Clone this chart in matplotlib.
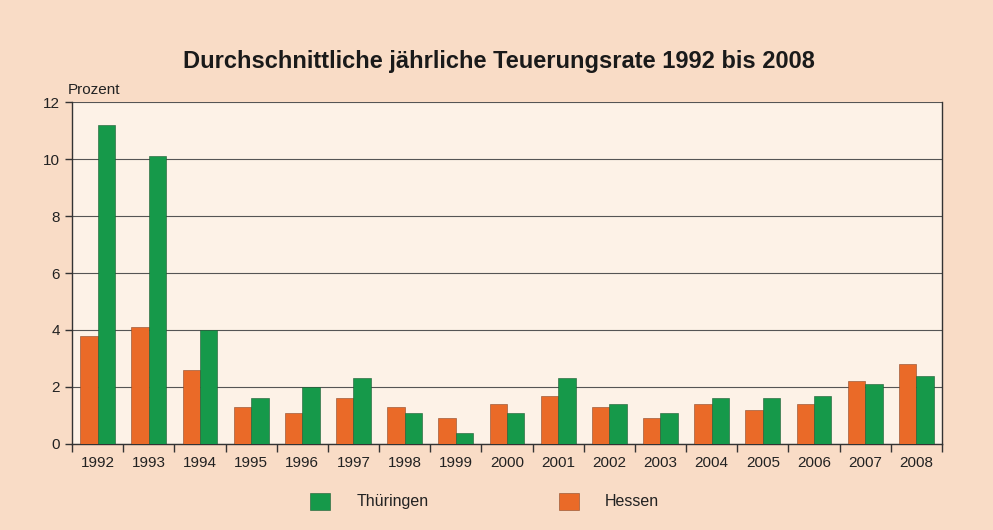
import matplotlib
matplotlib.use("Agg")
import matplotlib.pyplot as plt
import numpy as np

plt.rcParams["font.family"] = ["Liberation Sans", "DejaVu Sans"]

years = ["1992", "1993", "1994", "1995", "1996", "1997", "1998", "1999", "2000",
         "2001", "2002", "2003", "2004", "2005", "2006", "2007", "2008"]
hessen = [3.8, 4.1, 2.6, 1.3, 1.1, 1.6, 1.3, 0.9, 1.4, 1.7, 1.3, 0.9, 1.4, 1.2, 1.4, 2.2, 2.8]
thueringen = [11.2, 10.1, 4.0, 1.6, 2.0, 2.3, 1.1, 0.4, 1.1, 2.3, 1.4, 1.1, 1.6, 1.6, 1.7, 2.1, 2.4]

BG = "#f9dcc6"
PLOT_BG = "#fdf2e7"
ORANGE = "#ea6a28"
GREEN = "#16994a"

fig = plt.figure(figsize=(9.93, 5.30), dpi=100, facecolor=BG)
ax = fig.add_axes([0.0725, 0.1623, 0.8761, 0.6452])
ax.set_facecolor(PLOT_BG)

x = np.arange(len(years))
w = 0.34
ax.bar(x - w / 2, hessen, width=w, color=ORANGE, edgecolor="#8a4a2a", linewidth=0.4, zorder=3)
ax.bar(x + w / 2, thueringen, width=w, color=GREEN, edgecolor="#1d5a33", linewidth=0.4, zorder=3)

ax.set_xlim(-0.5, len(years) - 0.5)
ax.set_ylim(0, 12)
ax.set_yticks(range(0, 13, 2))
ax.grid(axis="y", color="#555555", linewidth=0.8, zorder=1)

ax.set_xticks(x)
ax.set_xticklabels(years, fontsize=11, color="#222222")
ax.tick_params(axis="x", length=0, pad=9)
ax.set_xticks(np.arange(-0.5, len(years)), minor=True)
ax.tick_params(axis="x", which="minor", length=6, width=1, color="#333333", direction="out")
ax.tick_params(axis="y", length=5, width=1, color="#333333", labelsize=11, labelcolor="#222222")

for s in ["left", "bottom", "right"]:
    ax.spines[s].set_color("#333333")
    ax.spines[s].set_linewidth(1)
ax.spines["top"].set_visible(False)

fig.text(0.068, 0.823, "Prozent", fontsize=11, color="#222222", ha="left", va="baseline")
fig.text(0.502, 0.884, "Durchschnittliche jährliche Teuerungsrate 1992 bis 2008",
         fontsize=17, fontweight="bold", color="#1a1a1a", ha="center", va="center")

# Legende unten
fig.patches.append(plt.Rectangle((0.312, 0.038), 0.020, 0.032, transform=fig.transFigure,
                                 facecolor=GREEN, edgecolor="#1d5a33", linewidth=0.4))
fig.text(0.359, 0.054, "Thüringen", fontsize=11.5, color="#222222", va="center")
fig.patches.append(plt.Rectangle((0.563, 0.038), 0.020, 0.032, transform=fig.transFigure,
                                 facecolor=ORANGE, edgecolor="#8a4a2a", linewidth=0.4))
fig.text(0.609, 0.054, "Hessen", fontsize=11.5, color="#222222", va="center")

fig.savefig("out.png", dpi=100, facecolor=BG)
